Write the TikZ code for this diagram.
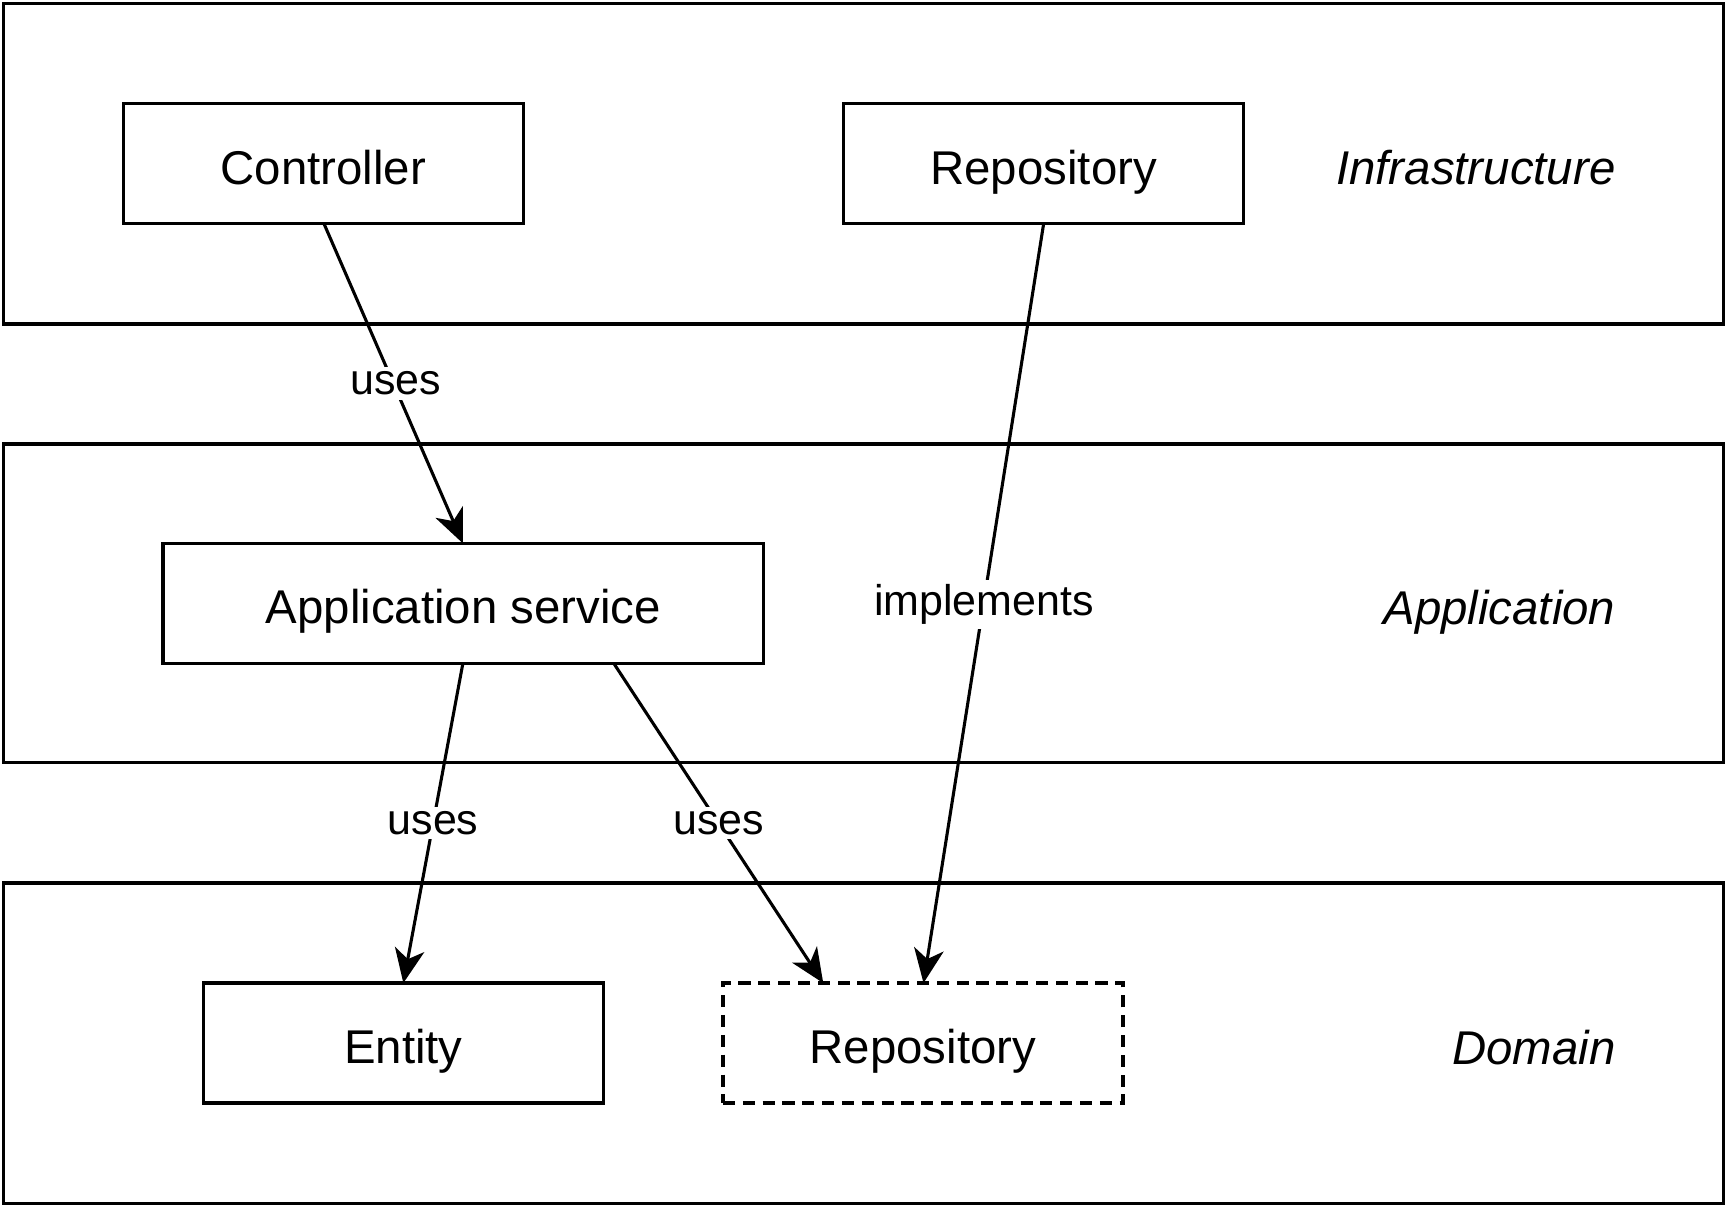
\documentclass[tikz,border=0pt]{standalone}
\usepackage{fontspec}
\setmainfont{Liberation Sans}
\usetikzlibrary{arrows.meta}
\begin{document}
\begin{tikzpicture}[x=1pt,y=-1pt,
  band/.style={draw, line width=3.2pt},
  box/.style={draw, line width=3.2pt, minimum width=363pt, minimum height=109pt, font=\fontsize{43}{50}\selectfont, inner sep=0pt, text height=37pt, text depth=0pt},
  layerlbl/.style={anchor=base east, font=\fontsize{43}{50}\selectfont\itshape, inner sep=0pt},
  conn/.style={line width=2.8pt, -{Stealth[length=31pt, width=27pt, inset=9pt]}},
  lbl/.style={fill=white, font=\fontsize{39}{46}\selectfont, inner sep=4pt}
]
\useasboundingbox (0,0) rectangle (1568,1095);
\draw[band] (3,3) rectangle (1564,294);
\draw[band] (3,403) rectangle (1564,692);
\draw[band] (3,801) rectangle (1564,1092);

\node[box] (ctrl) at (293.5,148.5) {Controller};
\node[box] (repoi) at (947,148.5) {Repository};
\node[box, minimum width=545pt] (app) at (420.5,547.5) {Application service};
\node[box] (ent) at (366,946.5) {Entity};
\node[box, dash pattern=on 11pt off 7pt] (repod) at (837.5,946.5) {Repository};

\node[layerlbl] (linf) at (1466,167.5) {Infrastructure};
\node[layerlbl] (lapp) at (1466,566.5) {Application};
\node[layerlbl] (ldom) at (1466,965.5) {Domain};

\coordinate (c1) at (294,203);
\coordinate (a1) at (420,493);
\draw[conn] (c1) -- node[lbl, pos=0.5, xshift=2pt] {uses} (a1);

\coordinate (r1) at (947,203);
\coordinate (d1) at (838,892);
\draw[conn] (r1) -- node[lbl, pos=0.497, yshift=-3pt] {implements} (d1);

\coordinate (a2) at (420,602);
\coordinate (e1) at (366,892);
\draw[conn] (a2) -- node[lbl, pos=0.5] {uses} (e1);

\coordinate (a3) at (557,602);
\coordinate (d2) at (747,892);
\draw[conn] (a3) -- node[lbl, pos=0.5] {uses} (d2);
\end{tikzpicture}
\end{document}
